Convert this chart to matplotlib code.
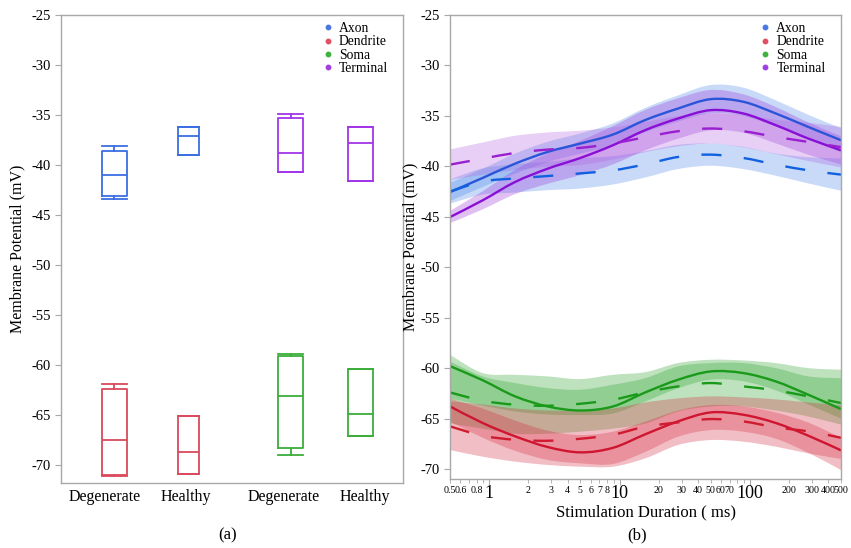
import numpy as np
import matplotlib
matplotlib.use('Agg')
from matplotlib import pyplot as plt
from matplotlib.lines import Line2D
from matplotlib.path import Path
from matplotlib.patches import PathPatch
import matplotlib.ticker as ticker

plt.rcParams['font.family'] = ['Liberation Serif', 'DejaVu Serif']

# ---- panel (a): box summaries (whislo, q1, med, q3, whishi)
box_labels = ["Degenerate", "Healthy", "Degenerate", "Healthy"]
axon_boxes = [(-43.43, -43.07, -41.03, -38.57, -38.07), (-39.03, -39.03, -37.13, -36.23, -36.23)]
term_boxes = [(-40.7, -40.7, -38.77, -35.33, -34.87), (-41.63, -41.63, -37.83, -36.23, -36.23)]
dend_boxes = [(-71.17, -71.07, -67.5, -62.43, -61.9), (-70.9, -70.9, -68.7, -65.1, -65.1)]
soma_boxes = [(-69.03, -68.33, -63.1, -59.17, -58.9), (-67.13, -67.13, -64.9, -60.43, -60.43)]

# ---- panel (b): fitted curves vs stimulation duration
durations = [0.5, 0.89, 1.58, 2.81, 5.0, 8.89, 15.8, 28.1, 50.0, 88.9, 158, 281, 500]
axon_solid = [-42.55, -41.15, -39.73, -38.57, -37.74, -36.85, -35.4, -34.27, -33.34, -33.6, -34.76, -36.1, -37.41]
axon_dash = [-42.5, -41.5, -41.2, -40.96, -40.7, -40.4, -39.8, -39.07, -38.84, -39.17, -39.83, -40.4, -40.82]
term_solid = [-45.03, -43.37, -41.55, -40.23, -39.17, -37.91, -36.4, -35.26, -34.43, -34.76, -35.92, -37.25, -38.41]
term_dash = [-39.83, -39.24, -38.67, -38.34, -38.17, -37.74, -37.1, -36.52, -36.25, -36.52, -37.08, -37.58, -38.1]
soma_solid = [-59.8, -61.2, -62.8, -63.8, -64.2, -63.8, -62.4, -61.15, -60.33, -60.49, -61.32, -62.64, -64.06]
soma_dash = [-62.41, -63.23, -63.63, -63.73, -63.53, -63.13, -62.4, -61.81, -61.48, -61.81, -62.21, -62.8, -63.46]
dend_solid = [-63.79, -65.44, -66.76, -67.82, -68.35, -67.9, -66.55, -65.28, -64.39, -64.62, -65.44, -66.7, -68.15]
dend_dash = [-65.77, -66.7, -67.1, -67.2, -67.0, -66.6, -65.8, -65.38, -65.05, -65.28, -65.87, -66.27, -66.9]

# shaded bands (upper / lower edges)
axon_solid_hi = [-41.65, -40.25, -38.73, -37.57, -36.74, -35.75, -34.2, -32.97, -31.94, -32.2, -33.46, -34.9, -36.21]
axon_solid_lo = [-43.45, -42.05, -40.73, -39.57, -38.74, -37.95, -36.6, -35.57, -34.74, -35.0, -36.06, -37.3, -38.61]
axon_dash_hi = [-41.3, -40.2, -39.8, -39.56, -39.2, -39.0, -38.5, -37.87, -37.74, -38.07, -38.73, -39.1, -39.22]
axon_dash_lo = [-43.7, -42.8, -42.6, -42.36, -42.2, -41.8, -41.1, -40.27, -39.94, -40.27, -40.93, -41.7, -42.42]
term_solid_hi = [-44.43, -42.47, -40.35, -38.73, -37.47, -36.01, -34.4, -33.26, -32.43, -32.86, -34.12, -35.65, -37.01]
term_solid_lo = [-45.63, -44.27, -42.75, -41.73, -40.87, -39.81, -38.4, -37.26, -36.43, -36.66, -37.72, -38.85, -39.81]
term_dash_hi = [-38.33, -37.64, -36.97, -36.64, -36.47, -36.14, -35.6, -35.02, -34.75, -34.92, -35.38, -35.68, -36.1]
term_dash_lo = [-41.33, -40.84, -40.37, -40.04, -39.87, -39.34, -38.6, -38.02, -37.75, -38.12, -38.78, -39.48, -40.1]
soma_solid_hi = [-58.68, -60.49, -60.66, -60.82, -61.09, -60.66, -60.4, -59.5, -59.17, -59.24, -59.5, -60.0, -60.16]
soma_solid_lo = [-63.0, -63.7, -64.3, -64.6, -64.65, -64.5, -63.3, -62.0, -61.15, -61.3, -62.2, -63.6, -65.0]
soma_dash_hi = [-59.34, -60.82, -61.48, -61.98, -62.14, -61.65, -60.99, -59.83, -59.5, -59.5, -60.0, -60.82, -61.0]
soma_dash_lo = [-65.5, -66.0, -66.5, -66.5, -66.3, -66.0, -65.5, -64.3, -63.8, -63.8, -64.2, -64.8, -65.6]
dend_solid_hi = [-63.0, -64.0, -65.2, -66.2, -66.63, -66.3, -65.3, -64.2, -63.66, -63.8, -64.4, -65.4, -66.9]
dend_solid_lo = [-65.3, -66.9, -68.2, -69.1, -69.44, -69.5, -68.3, -66.8, -66.14, -66.3, -67.0, -68.4, -70.1]
dend_dash_hi = [-63.3, -63.6, -64.0, -64.2, -64.2, -64.0, -63.4, -63.0, -62.8, -62.9, -63.1, -63.4, -63.7]
dend_dash_lo = [-68.12, -68.78, -69.27, -69.6, -69.77, -69.77, -68.94, -67.62, -67.13, -67.29, -67.79, -68.45, -69.0]

legend_names = ["Axon", "Dendrite", "Soma", "Terminal"]
dot_colors = ['#4a78e0', '#e05060', '#40b040', '#a040e0']

grey = '#a8a8a8'

fig = plt.figure(figsize=(8.51, 5.48), dpi=100)


def style_axes(ax, label_x):
    for s in ax.spines.values():
        s.set_color(grey)
        s.set_linewidth(1.0)
    ax.tick_params(axis='y', colors=grey, labelcolor='black', labelsize=10.5, length=4)
    ax.set_yticks(np.arange(-70, -24, 5))
    ax.yaxis.set_major_formatter(ticker.FuncFormatter(lambda v, p: f"{v:.0f}"))
    ax.set_ylabel("Membrane Potential (mV)", fontsize=11.5)
    ax.yaxis.set_label_coords(label_x, 0.5)


def add_legend(ax):
    handles = [Line2D([], [], marker='o', linestyle='none', markersize=3.2,
                      markerfacecolor=c, markeredgecolor=c) for c in dot_colors]
    ax.legend(handles, legend_names, loc='upper right', bbox_to_anchor=(0.985, 1.005),
              frameon=False, fontsize=9.8, handlelength=0.6, handletextpad=0.5,
              labelspacing=0.02, borderpad=0.2)


# ---------------- panel (a)
ax1 = fig.add_axes([61 / 851, 65 / 548, 342 / 851, 468 / 548])
box_pos = [1.0, 2.0, 3.38, 4.32]
box_w = [0.34, 0.29, 0.34, 0.34]


def draw_boxes(ax, boxes, positions, widths, color):
    stats = [dict(whislo=b[0], q1=b[1], med=b[2], q3=b[3], whishi=b[4]) for b in boxes]
    lp = dict(color=color, linewidth=1.3)
    ax.bxp(stats, positions=positions, widths=widths, capwidths=widths,
           showfliers=False, boxprops=lp, medianprops=lp, whiskerprops=lp, capprops=lp)


draw_boxes(ax1, axon_boxes, box_pos[:2], box_w[:2], '#3b6ee3')
draw_boxes(ax1, dend_boxes, box_pos[:2], box_w[:2], '#d94a5c')
draw_boxes(ax1, term_boxes, box_pos[2:], box_w[2:], '#a335e8')
draw_boxes(ax1, soma_boxes, box_pos[2:], box_w[2:], '#3cae3c')

ax1.set_xlim(0.277, 4.9)
ax1.set_ylim(-71.83, -25)
ax1.set_xticks([0.87, 1.97, 3.29, 4.39])
ax1.set_xticklabels(box_labels, fontsize=11.5)
ax1.tick_params(axis='x', length=0, pad=4)
style_axes(ax1, -0.105)
add_legend(ax1)

# ---------------- panel (b)
ax2 = fig.add_axes([450 / 851, 69 / 548, 391 / 851, 464 / 548])
ax2.set_xscale('log')


def smooth_verts(x, y):
    # bezier segments through the read points (control points in log-x space)
    lx = np.log10(np.asarray(x, float))
    y = np.asarray(y, float)
    n = len(lx)
    verts = [(10 ** lx[0], y[0])]
    for i in range(n - 1):
        a = max(i - 1, 0)
        b = min(i + 2, n - 1)
        c1 = (lx[i] + (lx[i + 1] - lx[a]) / 6, y[i] + (y[i + 1] - y[a]) / 6)
        c2 = (lx[i + 1] - (lx[b] - lx[i]) / 6, y[i + 1] - (y[b] - y[i]) / 6)
        verts += [(10 ** c1[0], c1[1]), (10 ** c2[0], c2[1]), (10 ** lx[i + 1], y[i + 1])]
    codes = [Path.MOVETO] + [Path.CURVE4] * (3 * (n - 1))
    return verts, codes


dash = (0, (8.5, 9.5))
series = [
    (axon_solid, axon_solid_lo, axon_solid_hi, '-', '#2b55d9', '#4a86e8'),
    (axon_dash, axon_dash_lo, axon_dash_hi, dash, '#1060e0', '#4a86e8'),
    (term_solid, term_solid_lo, term_solid_hi, '-', '#8a0fd6', '#9b30d9'),
    (term_dash, term_dash_lo, term_dash_hi, dash, '#9a1fd0', '#b060e0'),
    (soma_solid, soma_solid_lo, soma_solid_hi, '-', '#1a9a1a', '#2aa02a'),
    (soma_dash, soma_dash_lo, soma_dash_hi, dash, '#1a9a1a', '#2aa02a'),
    (dend_solid, dend_solid_lo, dend_solid_hi, '-', '#cf1530', '#d62a40'),
    (dend_dash, dend_dash_lo, dend_dash_hi, dash, '#d01a30', '#d62a40'),
]
for vals, lo, hi, ls, lc, fc in series:
    up_v, up_c = smooth_verts(durations, hi)
    lo_v, lo_c = smooth_verts(durations[::-1], lo[::-1])
    verts = up_v + lo_v + [up_v[0]]
    codes = up_c + [Path.LINETO] + lo_c[1:] + [Path.CLOSEPOLY]
    ax2.add_patch(PathPatch(Path(verts, codes), facecolor=fc, alpha=0.3, linewidth=0))
for vals, lo, hi, ls, lc, fc in series:
    verts, codes = smooth_verts(durations, vals)
    ax2.add_patch(PathPatch(Path(verts, codes), fill=False, edgecolor=lc,
                            linestyle=ls, linewidth=1.7))

ax2.set_xlim(0.5, 500)
ax2.set_ylim(-70.99, -25)
ax2.xaxis.set_major_locator(ticker.FixedLocator([1, 10, 100]))
ax2.xaxis.set_major_formatter(ticker.FixedFormatter(["1", "10", "100"]))
minor_ticks = [0.5, 0.6, 0.7, 0.8, 0.9, 2, 3, 4, 5, 6, 7, 8, 9,
               20, 30, 40, 50, 60, 70, 80, 90, 200, 300, 400, 500]
minor_text = ["0.5", "0.6", "", "0.8", "", "2", "3", "4", "5", "6", "7", "8", "",
              "20", "30", "40", "50", "60", "70", "", "", "200", "300", "400", "500"]
ax2.xaxis.set_minor_locator(ticker.FixedLocator(minor_ticks))
ax2.xaxis.set_minor_formatter(ticker.FixedFormatter(minor_text))
ax2.tick_params(axis='x', which='major', colors=grey, labelcolor='black', labelsize=13, length=4, pad=0)
ax2.tick_params(axis='x', which='minor', colors=grey, labelcolor='black', labelsize=7.2, length=3, pad=2)
ax2.set_xlabel("Stimulation Duration ( ms)", fontsize=12, labelpad=2)
style_axes(ax2, -0.082)
add_legend(ax2)

fig.text(228 / 851, 1 - 535 / 548, "(a)", ha='center', va='center', fontsize=12)
fig.text(637 / 851, 1 - 535 / 548, "(b)", ha='center', va='center', fontsize=12)

fig.savefig("out.png", dpi=100)
